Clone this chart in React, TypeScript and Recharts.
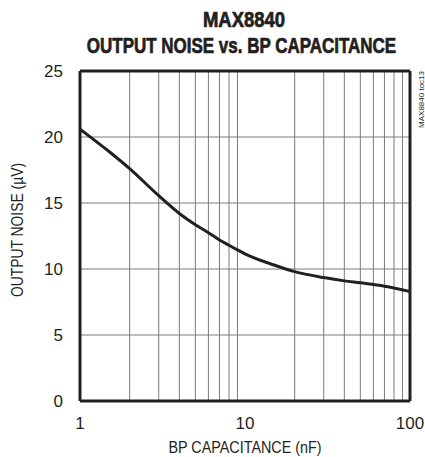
import React from "react";
import {
  LineChart,
  Line,
  XAxis,
  YAxis,
  ReferenceLine,
  Label,
} from "recharts";

// BP capacitance (nF) vs output noise (uV)
const capacitance = [1, 1.5, 2, 3, 4, 5, 6, 7, 8, 9, 10, 15, 20, 30, 40, 50, 70, 100];
const noise = [20.6, 18.9, 17.6, 15.55, 14.2, 13.35, 12.75, 12.2, 11.8, 11.45, 11.15, 10.3, 9.8, 9.35, 9.1, 8.95, 8.7, 8.3];

const xTicks = [1, 10, 100];
const yTicks = [0, 5, 10, 15, 20, 25];
const xGrid = [2, 3, 4, 5, 6, 7, 8, 9, 20, 30, 40, 50, 60, 70, 80, 90];
const yGrid = [5, 10, 15, 20];

const FONT = "'Liberation Sans', Arial, sans-serif";
const INK = "#231f20";

const data = capacitance.map((c, i) => ({ c, n: noise[i] }));

// condensed bold heading line, squeezed horizontally around its centre
function Heading({ x, y, sx, children }: { x: number; y: number; sx: number; children: string }) {
  return (
    <text
      transform={`translate(${x}, ${y}) scale(${sx}, 1)`}
      textAnchor="middle"
      fontFamily={FONT}
      fontWeight="bold"
      fontSize={21.5}
      fill={INK}
      stroke={INK}
      strokeWidth={0.7}
    >
      {children}
    </text>
  );
}

export default function App() {
  return (
    <div style={{ position: "absolute", left: 0, top: 0, width: 425, height: 457, background: "#fff" }}>
      <LineChart
        width={425}
        height={457}
        data={data}
        margin={{ top: 71, right: 15, bottom: 0, left: 0 }}
        style={{ position: "absolute", left: 0, top: 0 }}
      >
        {xGrid.map((v) => (
          <ReferenceLine key={"x" + v} x={v} stroke="#7a7a7a" strokeWidth={1} />
        ))}
        {yGrid.map((v) => (
          <ReferenceLine key={"y" + v} y={v} stroke="#7a7a7a" strokeWidth={1} />
        ))}
        <XAxis
          dataKey="c"
          type="number"
          scale="log"
          domain={[1, 100]}
          ticks={xTicks}
          allowDataOverflow
          height={56}
          axisLine={{ stroke: INK, strokeWidth: 3 }}
          tickLine={false}
          tickMargin={10}
          tick={{ fontSize: 17, fill: INK, fontFamily: FONT }}
        >
          <Label
            content={({ viewBox }: any) => (
              <text
                x={viewBox.x + viewBox.width / 2}
                y={453}
                textAnchor="middle"
                fontSize={16.5}
                fontFamily={FONT}
                fill={INK}
                textLength={153}
                lengthAdjust="spacingAndGlyphs"
              >
                BP CAPACITANCE (nF)
              </text>
            )}
          />
        </XAxis>
        <YAxis
          type="number"
          domain={[0, 25]}
          ticks={yTicks}
          width={80}
          axisLine={{ stroke: INK, strokeWidth: 3 }}
          tickLine={false}
          tickMargin={11}
          tick={{ fontSize: 17, fill: INK, fontFamily: FONT }}
        >
          <Label
            content={() => {
              const cx = 23;
              const cy = 230;
              return (
                <text
                  x={cx}
                  y={cy}
                  transform={`rotate(-90, ${cx}, ${cy})`}
                  textAnchor="middle"
                  fontSize={16.5}
                  fontFamily={FONT}
                  fill={INK}
                  textLength={134}
                  lengthAdjust="spacingAndGlyphs"
                >
                  OUTPUT NOISE (µV)
                </text>
              );
            }}
          />
        </YAxis>
        <ReferenceLine y={25} stroke={INK} strokeWidth={3} />
        <ReferenceLine x={100} stroke={INK} strokeWidth={3}>
          <Label
            content={({ viewBox }: any) => {
              const tx = viewBox.x + 14;
              const ty = viewBox.y;
              return (
                <text
                  x={tx}
                  y={ty}
                  transform={`rotate(-90, ${tx}, ${ty})`}
                  textAnchor="end"
                  fontSize={8}
                  fontFamily={FONT}
                  fill={INK}
                >
                  MAX8840 toc13
                </text>
              );
            }}
          />
        </ReferenceLine>
        <Line
          type="monotone"
          dataKey="n"
          stroke={INK}
          strokeWidth={3}
          dot={false}
          isAnimationActive={false}
        />
      </LineChart>
      <svg
        width={425}
        height={64}
        style={{ position: "absolute", left: 0, top: 0, pointerEvents: "none" }}
      >
        <Heading x={244} y={27} sx={0.86}>MAX8840</Heading>
        <Heading x={241.5} y={53} sx={0.79}>OUTPUT NOISE vs. BP CAPACITANCE</Heading>
      </svg>
    </div>
  );
}
